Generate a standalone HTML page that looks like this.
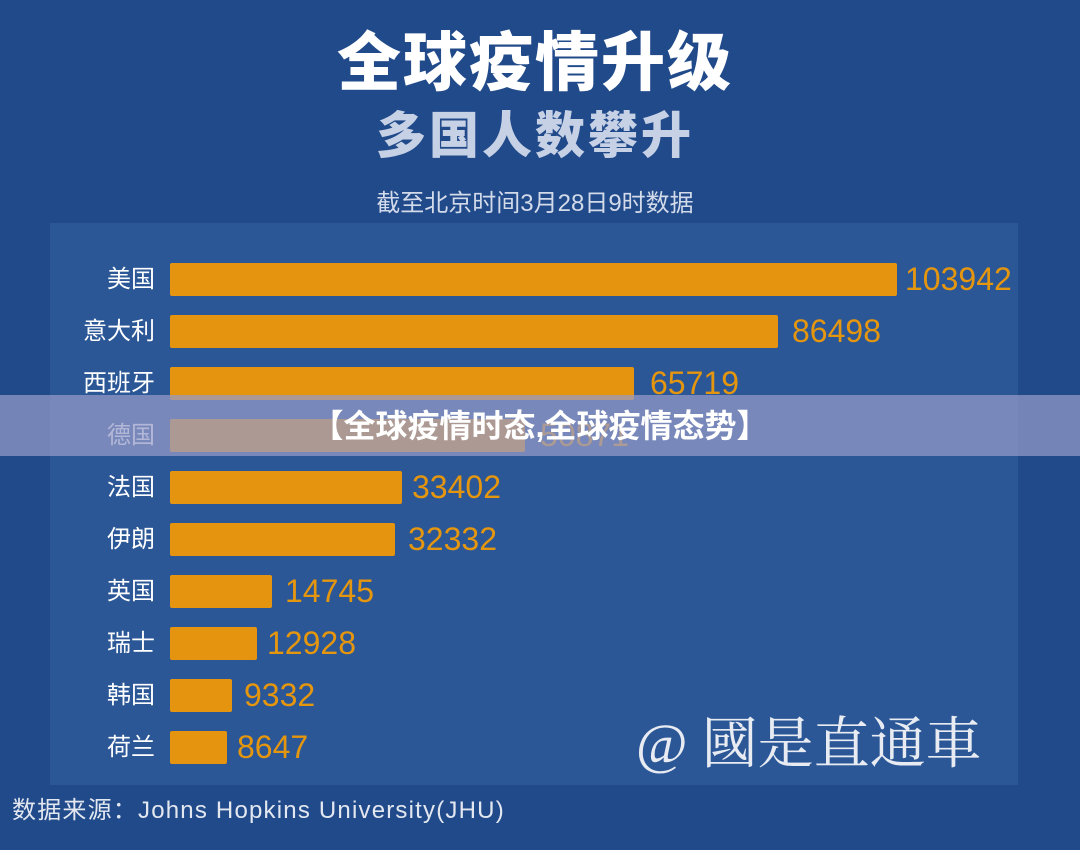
<!DOCTYPE html>
<html><head><meta charset="utf-8"><style>
*{margin:0;padding:0;box-sizing:border-box}
body{width:1080px;height:850px;background:#214a8a;position:relative;overflow:hidden;font-family:"Liberation Sans","Noto Sans CJK SC",sans-serif}
.a{position:absolute;white-space:nowrap}
.panel{position:absolute;left:50px;top:223px;width:968px;height:562px;background:#2b5797}
.bar{position:absolute;left:170px;height:33px;background:#e5940f;border-radius:2px}
.lab{position:absolute;right:925px;color:#fff;font-size:24px;line-height:33px;text-align:right}
.val{position:absolute;color:#e5960f;font-size:32px;line-height:33px}
</style></head><body>
<div class="a" style="left:0;width:1070px;text-align:center;top:12px;font-size:64px;font-weight:900;color:#fff;letter-spacing:2px">全球疫情升级</div>
<div class="a" style="left:0;width:1070px;text-align:center;top:96px;font-size:50px;font-weight:900;color:#c6d1e6;letter-spacing:3px">多国人数攀升</div>
<div class="a" style="left:0;width:1070px;text-align:center;top:183px;font-size:24px;color:#d3dbea">截至北京时间3月28日9时数据</div>
<div class="panel"></div>
<div class="lab" style="top:263px">美国</div><div class="bar" style="top:263px;width:727px"></div><div class="val" style="top:263px;left:905px">103942</div>
<div class="lab" style="top:315px">意大利</div><div class="bar" style="top:315px;width:608px"></div><div class="val" style="top:315px;left:792px">86498</div>
<div class="lab" style="top:367px">西班牙</div><div class="bar" style="top:367px;width:464px"></div><div class="val" style="top:367px;left:650px">65719</div>
<div class="lab" style="top:419px">德国</div><div class="bar" style="top:419px;width:355px"></div><div class="val" style="top:419px;left:540px">50871</div>
<div class="lab" style="top:471px">法国</div><div class="bar" style="top:471px;width:232px"></div><div class="val" style="top:471px;left:412px">33402</div>
<div class="lab" style="top:523px">伊朗</div><div class="bar" style="top:523px;width:225px"></div><div class="val" style="top:523px;left:408px">32332</div>
<div class="lab" style="top:575px">英国</div><div class="bar" style="top:575px;width:102px"></div><div class="val" style="top:575px;left:285px">14745</div>
<div class="lab" style="top:627px">瑞士</div><div class="bar" style="top:627px;width:87px"></div><div class="val" style="top:627px;left:267px">12928</div>
<div class="lab" style="top:679px">韩国</div><div class="bar" style="top:679px;width:62px"></div><div class="val" style="top:679px;left:244px">9332</div>
<div class="lab" style="top:731px">荷兰</div><div class="bar" style="top:731px;width:57px"></div><div class="val" style="top:731px;left:237px">8647</div>
<div class="a" style="left:636px;top:710px;font-size:56px;color:#e8ecf2;font-family:'Liberation Serif','Noto Serif CJK SC',serif;line-height:70px">@ 國是直通車</div>
<div class="a" style="left:12px;top:790px;font-size:24px;letter-spacing:1.2px;color:#e3e8f0">数据来源：Johns Hopkins University(JHU)</div>
<div class="a" style="left:0;top:395px;width:1080px;height:61px;background:rgba(150,155,200,0.72)"></div>
<div class="a" style="left:0;width:1080px;text-align:center;top:406px;font-size:32px;font-weight:bold;color:#fff;line-height:40px">【全球疫情时态,全球疫情态势】</div>
</body></html>
